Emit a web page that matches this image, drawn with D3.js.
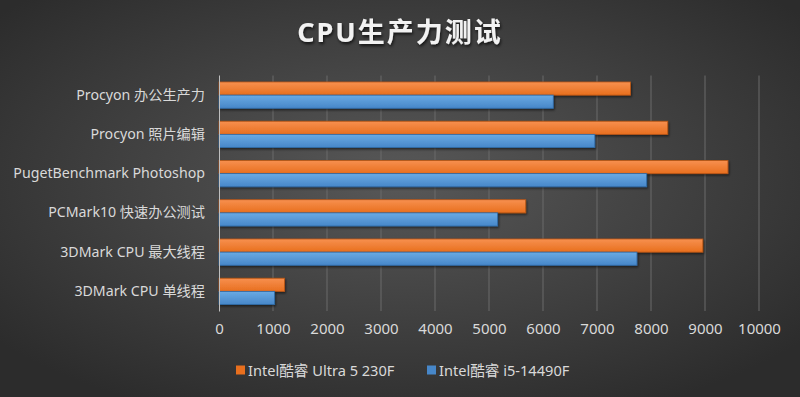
<!DOCTYPE html>
<html>
<head>
<meta charset="utf-8">
<script src="https://cdn.jsdelivr.net/npm/d3@7/dist/d3.min.js"></script>
<style>
  html, body { margin: 0; padding: 0; background: #3a3a3a; }
  svg { display: block; }
  .axis text { fill: #d9d9d9; }
</style>
</head>
<body>
<svg id="chart" width="800" height="397"></svg>
<script>
const categories = [
  'Procyon 办公生产力',
  'Procyon 照片编辑',
  'PugetBenchmark Photoshop',
  'PCMark10 快速办公测试',
  '3DMark CPU 最大线程',
  '3DMark CPU 单线程'
];
const seriesNames = ['Intel酷睿 Ultra 5 230F', 'Intel酷睿 i5-14490F'];
const ultraValues = [7620, 8310, 9425, 5680, 8960, 1215];
const i5Values = [6190, 6960, 7920, 5160, 7740, 1030];
const xTicks = [0, 1000, 2000, 3000, 4000, 5000, 6000, 7000, 8000, 9000, 10000];

const width = 800;
const height = 397;
const font = "'Noto Sans', 'Noto Sans CJK SC', sans-serif";
const svg = d3.select('#chart');

const defs = svg.append('defs');
const bg = defs.append('radialGradient').attr('id', 'bg').attr('cx', '50%').attr('cy', '45%').attr('r', '65%');
bg.append('stop').attr('offset', '0%').attr('stop-color', '#585858');
bg.append('stop').attr('offset', '100%').attr('stop-color', '#2c2c2c');

const palette = [
  { top: '#f7904f', bottom: '#e86f1e', stroke: '#b85514' },
  { top: '#6aaae3', bottom: '#4787c9', stroke: '#2f6aa6' }
];
palette.forEach((p, i) => {
  const g = defs.append('linearGradient').attr('id', `bar${i}`).attr('x1', 0).attr('y1', 0).attr('x2', 0).attr('y2', 1);
  g.append('stop').attr('offset', '0%').attr('stop-color', p.top);
  g.append('stop').attr('offset', '100%').attr('stop-color', p.bottom);
});
const shadow = defs.append('filter').attr('id', 'shadow').attr('x', '-5%').attr('y', '-30%').attr('width', '110%').attr('height', '180%');
shadow.append('feDropShadow').attr('dx', 1).attr('dy', 1.5).attr('stdDeviation', 1.2).attr('flood-color', '#000').attr('flood-opacity', 0.55);
const titleShadow = defs.append('filter').attr('id', 'tshadow');
titleShadow.append('feDropShadow').attr('dx', 1).attr('dy', 2).attr('stdDeviation', 1.5).attr('flood-color', '#000').attr('flood-opacity', 0.7);

svg.append('rect').attr('width', width).attr('height', height).attr('fill', 'url(#bg)');

const x = d3.scaleLinear().domain([0, 10000]).range([219, 759]);
const y = d3.scaleBand().domain(categories).range([75.5, 311]).paddingInner(0.33).paddingOuter(0.165);
const sub = d3.scaleBand().domain([0, 1]).range([0, y.bandwidth()]);

// gridlines
svg.append('g')
  .selectAll('line')
  .data(xTicks.slice(1))
  .join('line')
  .attr('x1', (d) => x(d))
  .attr('x2', (d) => x(d))
  .attr('y1', 75.5)
  .attr('y2', 311)
  .attr('stroke', '#6a6a6a')
  .attr('stroke-width', 1);

// bars
const series = [ultraValues, i5Values];
series.forEach((values, si) => {
  svg.append('g')
    .selectAll('rect')
    .data(values)
    .join('rect')
    .attr('x', x(0))
    .attr('y', (d, i) => y(categories[i]) + sub(si))
    .attr('width', (d) => x(d) - x(0))
    .attr('height', sub.bandwidth())
    .attr('fill', `url(#bar${si})`)
    .attr('stroke', palette[si].stroke)
    .attr('stroke-width', 0.8)
    .attr('filter', 'url(#shadow)');
});

// value axis
const xAxis = svg.append('g')
  .attr('class', 'axis')
  .attr('transform', 'translate(0, 311)')
  .call(d3.axisBottom(x).tickValues(xTicks).tickFormat(d3.format('d')).tickSize(0).tickPadding(12));
xAxis.select('.domain').remove();
xAxis.selectAll('text').attr('font-family', font).attr('font-size', 15);

// category axis
const yAxis = svg.append('g')
  .attr('class', 'axis')
  .attr('transform', `translate(${x(0)}, 0)`)
  .call(d3.axisLeft(y).tickSize(0).tickPadding(14));
yAxis.select('.domain').attr('stroke', '#bfbfbf').attr('d', 'M0.5,75.5V311.5');
yAxis.selectAll('text').attr('font-family', font).attr('font-size', 14.2);

// title
svg.append('text')
  .attr('x', 400)
  .attr('y', 42)
  .attr('text-anchor', 'middle')
  .attr('fill', '#f2f2f2')
  .attr('font-family', font)
  .attr('font-size', 27)
  .attr('font-weight', 'bold')
  .attr('letter-spacing', 2)
  .attr('filter', 'url(#tshadow)')
  .text('CPU生产力测试');

// legend
const legendX = [236, 427];
const legend = svg.append('g')
  .selectAll('g')
  .data(seriesNames)
  .join('g')
  .attr('transform', (d, i) => `translate(${legendX[i]}, 370)`);
legend.append('rect')
  .attr('x', 0)
  .attr('y', -4.5)
  .attr('width', 9)
  .attr('height', 9)
  .attr('fill', (d, i) => palette[i].bottom);
legend.append('text')
  .attr('x', 12)
  .attr('y', 5.5)
  .attr('fill', '#d9d9d9')
  .attr('font-family', font)
  .attr('font-size', 14.6)
  .text((d) => d);
</script>
</body>
</html>
